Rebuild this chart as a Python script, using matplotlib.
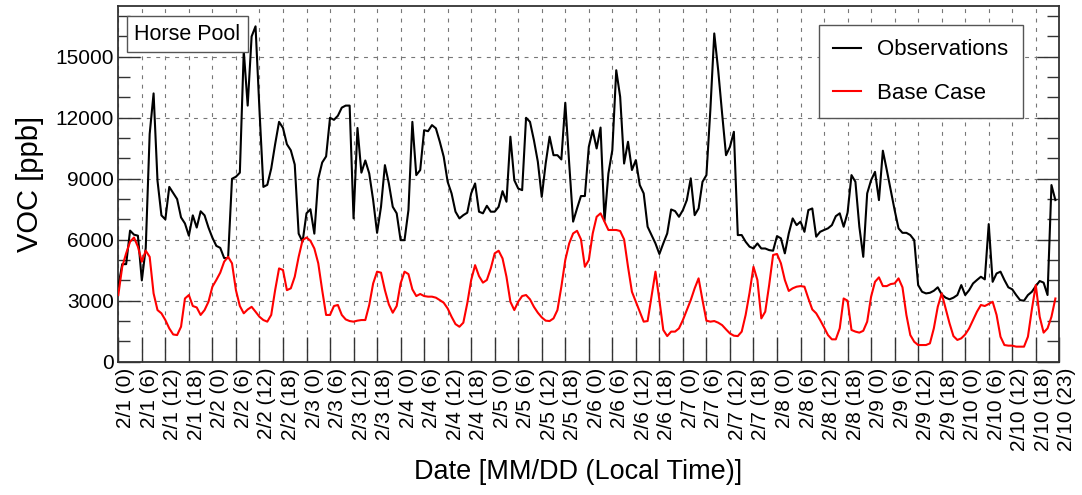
import matplotlib
matplotlib.use("Agg")
import matplotlib.pyplot as plt
import matplotlib.transforms as mtransforms
from matplotlib.ticker import MultipleLocator
import numpy as np

plt.rcParams['font.family'] = ['Liberation Sans', 'DejaVu Sans']

# Hourly VOC mixing ratios at Horse Pool, 2/1 00h through 2/10 23h (ppb)
observations = [
    3700, 4800, 4800, 6450, 6250, 6200, 4000, 5600, 11200, 13200,
    8900, 7200, 7000, 8600, 8300, 8000, 7100, 6800, 6200, 7200,
    6600, 7400, 7200, 6600, 6100, 5700, 5600, 5100, 5100, 9000,
    9100, 9300, 15300, 12600, 16000, 16500, 12400, 8600, 8700, 9500,
    10700, 11800, 11500, 10700, 10400, 9700, 6300, 5900, 7300, 7500,
    6300, 9000, 9800, 10100, 12000, 11900, 12100, 12500, 12600, 12600,
    7050, 11500, 9300, 9900, 9260, 7950, 6340, 7620, 9670, 8770,
    7620, 7300, 5980, 5980, 7460, 11800, 9180, 9430, 11390, 11340,
    11640, 11480, 10820, 10080, 8850, 8280, 7380, 7050, 7210, 7330,
    8280, 8770, 7380, 7300, 7670, 7380, 7380, 7620, 8390, 7870,
    11070, 8930, 8520, 8440, 12000, 11800, 10900, 9840, 8110, 9750,
    11070, 10160, 10160, 9950, 12740, 9750, 6890, 7540, 8150, 8150,
    10570, 11390, 10490, 11520, 6930, 9260, 10410, 14340, 13030, 9750,
    10820, 9430, 9920, 8690, 8280, 6640, 6230, 5820, 5300, 5820,
    6310, 7490, 7410, 7130, 7460, 7950, 9020, 7210, 7540, 8850,
    9180, 12380, 16150, 14340, 12210, 10160, 10570, 11310, 6230, 6230,
    5900, 5660, 5570, 5820, 5570, 5570, 5490, 5460, 6180, 6070,
    5330, 6310, 7050, 6720, 6890, 6390, 7460, 7540, 6150, 6390,
    6480, 6560, 6720, 7160, 7300, 6640, 7330, 9180, 8850, 6640,
    5160, 8280, 8930, 9340, 7950, 10380, 9430, 8440, 7460, 6560,
    6340, 6340, 6230, 5980, 3770, 3440, 3360, 3390, 3490, 3660,
    3310, 3150, 3070, 3150, 3280, 3770, 3280, 3520, 3850, 4020,
    4180, 4050, 6770, 3930, 4340, 4430, 4020, 3660, 3560, 3280,
    3030, 3000, 3280, 3440, 3720, 3970, 3890, 3280, 8690, 7950,
]

base_case = [
    3280, 4670, 5330, 5900, 6110, 5660, 4920, 5460, 5160, 3360,
    2540, 2380, 2050, 1640, 1340, 1310, 1720, 3110, 3280, 2740,
    2670, 2300, 2540, 2950, 3690, 4020, 4380, 4920, 5160, 4840,
    3520, 2740, 2380, 2570, 2700, 2460, 2210, 2050, 1970, 2300,
    3520, 4590, 4510, 3520, 3610, 4180, 5160, 5980, 6110, 5950,
    5570, 4840, 3520, 2300, 2300, 2740, 2790, 2300, 2080, 2000,
    1970, 2020, 2050, 2050, 2790, 3850, 4430, 4380, 3520, 2820,
    2410, 2740, 3850, 4430, 4310, 3560, 3230, 3330, 3230, 3200,
    3200, 3150, 3030, 2900, 2620, 2210, 1850, 1720, 1920, 2870,
    4020, 4750, 4210, 3890, 4020, 4590, 5330, 5460, 5080, 4180,
    2950, 2540, 2950, 3230, 3280, 3070, 2700, 2410, 2180, 2020,
    2000, 2130, 2540, 3690, 5000, 5820, 6310, 6440, 6020, 4670,
    5000, 6310, 7130, 7300, 6890, 6480, 6480, 6480, 6430, 6020,
    4670, 3440, 2950, 2460, 1970, 2000, 3200, 4430, 3030, 1560,
    1260, 1480, 1480, 1640, 2050, 2540, 3030, 3610, 4100, 3030,
    2020, 1970, 2000, 1920, 1800, 1590, 1390, 1280, 1260, 1480,
    2300, 3390, 4670, 4020, 2130, 2460, 3770, 5250, 5300, 4840,
    4020, 3480, 3610, 3690, 3720, 3690, 3110, 2570, 2380, 2050,
    1690, 1310, 1100, 1100, 1640, 3110, 3000, 1560, 1480, 1430,
    1520, 1970, 3200, 3930, 4150, 3720, 3720, 3820, 3850, 4100,
    3660, 2300, 1310, 980, 820, 820, 820, 900, 1640, 2700,
    3360, 2620, 1890, 1260, 1070, 1150, 1340, 1640, 2050, 2460,
    2790, 2740, 2840, 2950, 2300, 1230, 820, 790, 790, 740,
    740, 740, 1230, 2570, 3770, 2210, 1430, 1640, 2210, 3110,
]

days = [f"2/{d}" for d in range(1, 11)]
tick_hours = [0, 6, 12, 18]
tick_labels = [f"{d} ({h})" for d in days for h in tick_hours] + ["2/10 (23)"]

hours = np.arange(len(observations))
# 6-hourly ticks, with the closing label set at the end of the axis
tick_positions = list(range(0, 240, 6)) + [len(hours)]

fig = plt.figure(figsize=(10.82, 4.95), dpi=100)
ax = fig.add_axes([118.3 / 1082, 1 - 361.7 / 495, 941 / 1082, 355.7 / 495])

ax.plot(hours, observations, color='black', lw=1.5, label='Observations', zorder=3)
ax.plot(hours, base_case, color='#ff0000', lw=1.5, label='Base Case', zorder=3)

ax.set_xlim(0, len(hours))
ax.set_ylim(0, 17500)

ax.set_xticks(tick_positions)
ax.set_xticklabels(tick_labels, rotation=90, fontsize=15)
ax.yaxis.set_major_locator(MultipleLocator(3000))
ax.yaxis.set_minor_locator(MultipleLocator(1000))
ax.tick_params(axis='y', labelsize=15)

ax.tick_params(axis='x', which='major', direction='in', length=18, width=1.0,
               color='#333333', pad=4.5, bottom=True, top=False)
ax.tick_params(axis='y', which='major', direction='in', length=16, width=1.0,
               color='#333333', pad=3, left=True, right=True)
ax.tick_params(axis='y', which='minor', direction='in', length=8.5, width=1.0,
               color='#333333', left=True, right=True)

# nudge rotated date labels slightly to the right of their ticks
offset = mtransforms.ScaledTranslation(7.5 / 100, 0, fig.dpi_scale_trans)
for lbl in ax.get_xticklabels():
    lbl.set_transform(lbl.get_transform() + offset)

ax.grid(True, which='major', axis='both', color='#777777', lw=0.8,
        linestyle=(0, (3.5, 5)))
for s in ax.spines.values():
    s.set_color('#333333')
    s.set_linewidth(1.3)

fig.text(30 / 1082, 1 - 184 / 495, 'VOC [ppb]', rotation=90, fontsize=21,
         ha='center', va='center')
fig.text(578 / 1082, 1 - 472 / 495, 'Date [MM/DD (Local Time)]', fontsize=19.5,
         ha='center', va='center')

ax.text(0.0735, 0.92, 'Horse Pool', transform=ax.transAxes, fontsize=15.5,
        ha='center', va='center', zorder=5,
        bbox=dict(boxstyle='square,pad=0.35', fc='white', ec='#555555', lw=1.0))

leg = ax.legend(loc='upper right', bbox_to_anchor=(0.9614, 0.9466),
                borderaxespad=0, fontsize=16, handlelength=1.25,
                handletextpad=0.75, labelspacing=1.0, borderpad=0.65,
                fancybox=False, framealpha=1, edgecolor='#555555')
leg.get_frame().set_linewidth(1.0)

fig.savefig('out.png', dpi=100)
